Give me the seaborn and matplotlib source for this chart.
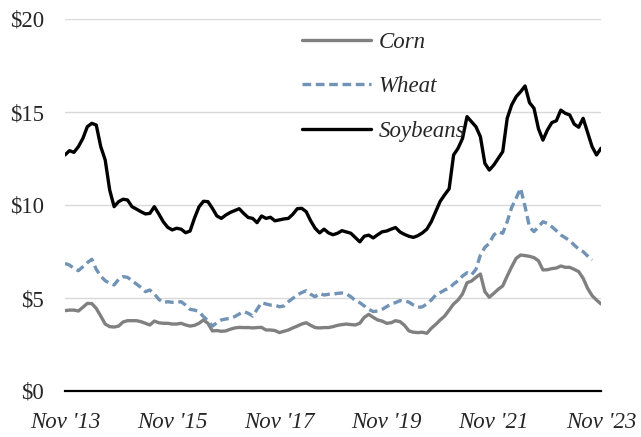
import numpy as np
import pandas as pd
import seaborn as sns
import matplotlib
matplotlib.use("Agg")
import matplotlib.pyplot as plt

# Monthly prices received, $/bushel, Nov 2013 .. Nov 2023
corn = [4.32, 4.35, 4.35, 4.30, 4.50, 4.71, 4.70, 4.44, 4.03, 3.60,
        3.46, 3.44, 3.49, 3.71, 3.78, 3.78, 3.78, 3.73, 3.64, 3.55,
        3.76, 3.67, 3.64, 3.64, 3.60, 3.60, 3.64, 3.55, 3.49, 3.53,
        3.64, 3.82, 3.64, 3.23, 3.25, 3.21, 3.23, 3.32, 3.39, 3.42,
        3.41, 3.41, 3.39, 3.41, 3.42, 3.28, 3.28, 3.25, 3.14, 3.21,
        3.28, 3.39, 3.49, 3.60, 3.67, 3.53, 3.41, 3.39, 3.41, 3.41,
        3.46, 3.53, 3.57, 3.60, 3.57, 3.55, 3.64, 3.96, 4.12, 3.96,
        3.82, 3.76, 3.64, 3.67, 3.78, 3.73, 3.53, 3.23, 3.16, 3.14,
        3.16, 3.10, 3.37, 3.58, 3.82, 4.03, 4.35, 4.68, 4.89, 5.22,
        5.82, 5.91, 6.11, 6.29, 5.34, 5.04, 5.25, 5.47, 5.65, 6.18,
        6.68, 7.13, 7.31, 7.28, 7.24, 7.17, 7.00, 6.51, 6.52, 6.58,
        6.61, 6.72, 6.65, 6.65, 6.54, 6.42, 6.06, 5.52, 5.13, 4.89,
        4.68]

wheat = [6.86, 6.77, 6.59, 6.47, 6.68, 6.90, 7.08, 6.54, 6.18, 5.93,
         5.79, 5.70, 6.00, 6.15, 6.11, 5.93, 5.75, 5.57, 5.34, 5.43,
         5.22, 4.93, 4.75, 4.80, 4.77, 4.77, 4.80, 4.62, 4.39, 4.35,
         4.27, 4.00, 3.78, 3.49, 3.67, 3.82, 3.87, 3.91, 4.00, 4.14,
         4.27, 4.18, 4.03, 4.39, 4.75, 4.68, 4.62, 4.62, 4.53, 4.57,
         4.80, 4.98, 5.16, 5.29, 5.39, 5.20, 5.07, 5.25, 5.16, 5.20,
         5.20, 5.25, 5.27, 5.22, 5.07, 4.86, 4.75, 4.57, 4.39, 4.27,
         4.30, 4.39, 4.53, 4.68, 4.75, 4.86, 4.84, 4.78, 4.62, 4.50,
         4.52, 4.68, 4.89, 5.16, 5.29, 5.43, 5.52, 5.75, 5.93, 6.18,
         6.36, 6.24, 6.54, 7.31, 7.72, 7.94, 8.39, 8.57, 8.48, 9.10,
         9.87, 10.36, 10.90, 9.91, 8.80, 8.57, 8.83, 9.10, 9.01, 8.83,
         8.62, 8.39, 8.24, 8.08, 7.85, 7.63, 7.49, 7.26, 7.04, np.nan,
         np.nan]

soybeans = [12.69, 12.92, 12.83, 13.14, 13.58, 14.21, 14.39, 14.30, 13.14, 12.42,
            10.81, 9.91, 10.18, 10.31, 10.27, 9.91, 9.78, 9.64, 9.52, 9.55,
            9.91, 9.52, 9.10, 8.80, 8.66, 8.75, 8.70, 8.51, 8.60, 9.30,
            9.90, 10.20, 10.18, 9.82, 9.41, 9.28, 9.46, 9.60, 9.70, 9.80,
            9.55, 9.33, 9.28, 9.05, 9.41, 9.28, 9.34, 9.15, 9.20, 9.25,
            9.28, 9.50, 9.80, 9.82, 9.64, 9.15, 8.75, 8.50, 8.70, 8.50,
            8.40, 8.48, 8.62, 8.55, 8.48, 8.25, 8.02, 8.32, 8.38, 8.23,
            8.40, 8.56, 8.60, 8.70, 8.79, 8.55, 8.42, 8.32, 8.26, 8.35,
            8.50, 8.70, 9.10, 9.65, 10.20, 10.55, 10.87, 12.69, 13.05, 13.58,
            14.75, 14.48, 14.21, 13.67, 12.24, 11.88, 12.15, 12.51, 12.87, 14.66,
            15.38, 15.82, 16.09, 16.40, 15.50, 15.20, 14.10, 13.49, 14.03, 14.43,
            14.53, 15.10, 14.93, 14.84, 14.35, 14.18, 14.66, 13.90, 13.14, 12.69,
            13.05]

tick_positions = [0, 24, 48, 72, 96, 120]
tick_labels = ["Nov '13", "Nov '15", "Nov '17", "Nov '19", "Nov '21", "Nov '23"]
y_ticks = [0, 5, 10, 15, 20]
y_labels = ["$0", "$5", "$10", "$15", "$20"]

months = np.arange(len(soybeans))
df = pd.DataFrame({"month": months, "Corn": corn, "Wheat": wheat, "Soybeans": soybeans})

sns.set_theme(style="white")
plt.rcParams["font.family"] = ["Liberation Serif", "DejaVu Serif"]

fig = plt.figure(figsize=(6.41, 4.37), dpi=100)
ax = fig.add_axes([65 / 641, 46 / 437, 536 / 641, 372 / 437])

lw = 2.4
sns.lineplot(data=df, x="month", y="Corn", ax=ax, color="#808080", lw=lw, label="Corn")
sns.lineplot(data=df, x="month", y="Wheat", ax=ax, color="#7093B6", lw=lw,
             label="Wheat", dashes=False)
ax.lines[-1].set_dashes((2.6, 1.4))
sns.lineplot(data=df, x="month", y="Soybeans", ax=ax, color="black", lw=lw, label="Soybeans")

ax.set_xlim(0, 120)
ax.set_ylim(0, 20)
ax.set_yticks(y_ticks)
ax.set_yticklabels(y_labels, fontsize=16.5)
ax.set_xticks(tick_positions)
ax.set_xticklabels(tick_labels, fontsize=16.5, style="italic")
ax.tick_params(axis="y", length=0, pad=15)
ax.tick_params(axis="x", length=0, pad=15)
ax.set_xlabel("")
ax.set_ylabel("")

ax.grid(axis="y", color="#D9D9D9", lw=1)
ax.grid(axis="x", visible=False)
for side in ["left", "right", "top"]:
    ax.spines[side].set_visible(False)
ax.spines["bottom"].set_color("black")
ax.spines["bottom"].set_linewidth(1.6)
ax.set_axisbelow(True)

leg = ax.legend(loc="upper left", bbox_to_anchor=(302 / 641, 1 - 32 / 437),
                bbox_transform=fig.transFigure, frameon=False, fontsize=16.5,
                handlelength=3.0, handletextpad=0.35, labelspacing=1.02,
                borderpad=0, borderaxespad=0)
for t in leg.get_texts():
    t.set_fontstyle("italic")

fig.savefig("out.png", dpi=100)
